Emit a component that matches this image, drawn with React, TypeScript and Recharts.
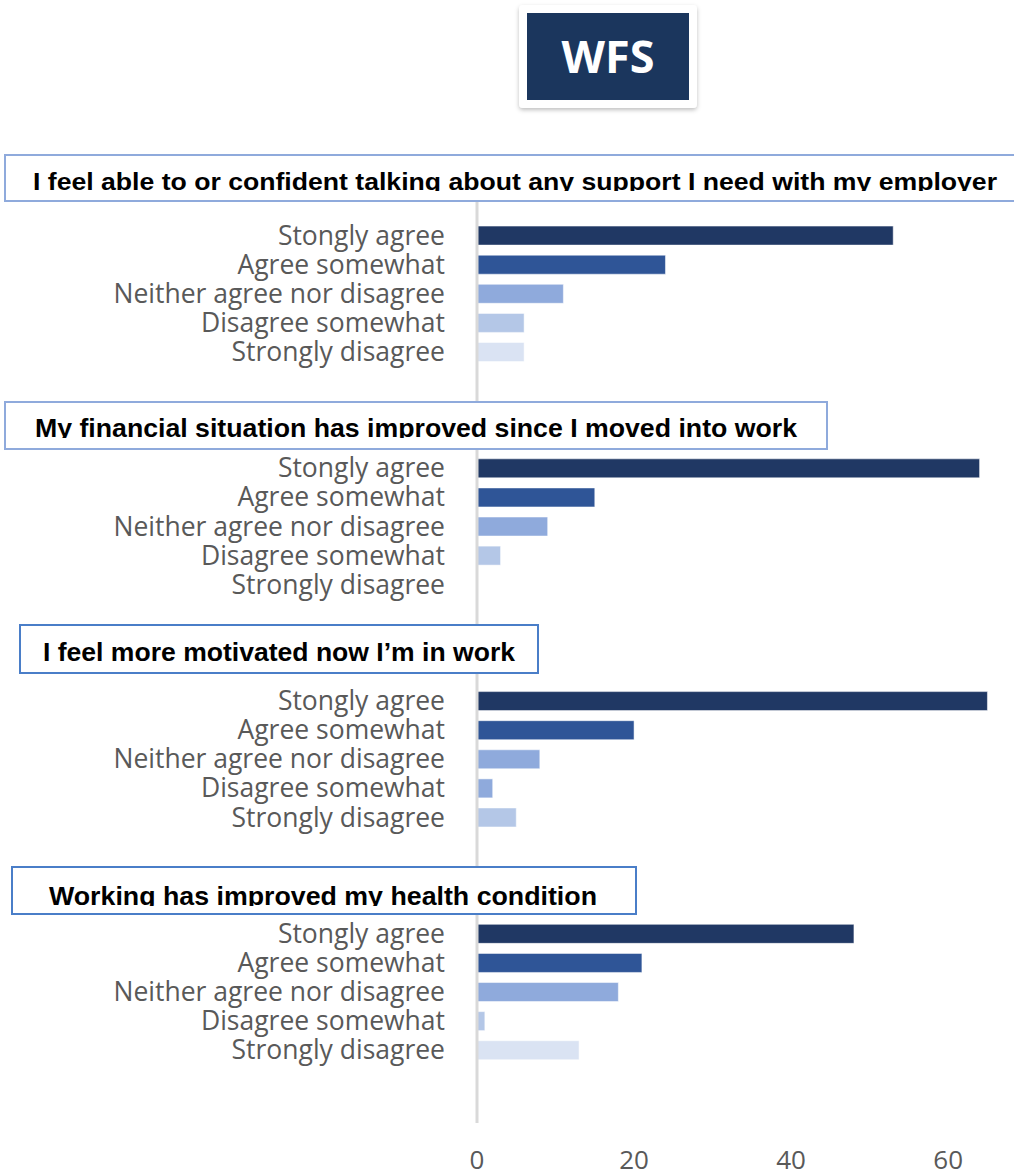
import React from 'react';
import { BarChart, Bar, XAxis, YAxis, Cell } from 'recharts';

// answer categories, same for every question
const categories = [
  'Stongly agree',
  'Agree somewhat',
  'Neither agree nor disagree',
  'Disagree somewhat',
  'Strongly disagree',
];

const questions = [
  'I feel able to or confident talking about any support I need with my employer',
  'My financial situation has improved since I moved into work',
  'I feel more motivated now I\u2019m in work',
  'Working has improved my health condition',
];

const supportValues = [53, 24, 11, 6, 6];
const financeValues = [64, 15, 9, 3, 0];
const motivationValues = [65, 20, 8, 2, 5];
const healthValues = [48, 21, 18, 1, 13];

const NAVY = '#203864';
const BLUE = '#2F5597';
const MID = '#8FAADC';
const LIGHT = '#B4C7E7';
const PALE = '#DAE3F3';

const supportColors = [NAVY, BLUE, MID, LIGHT, PALE];
const financeColors = [NAVY, BLUE, MID, LIGHT, PALE];
const motivationColors = [NAVY, BLUE, MID, MID, LIGHT];
const healthColors = [NAVY, BLUE, MID, LIGHT, PALE];

const xTicks = [0, 20, 40, 60];

// empty category rows before each block (last entry = after the last block)
const gapRows = [1, 3, 3, 3, 2];

const groups = [
  { values: supportValues, colors: supportColors },
  { values: financeValues, colors: financeColors },
  { values: motivationValues, colors: motivationColors },
  { values: healthValues, colors: healthColors },
];

type Row = { key: string; label: string; value: number | null; fill: string };
const rows: Row[] = [];
const pushBlank = (n: number) => {
  for (let i = 0; i < n; i++) {
    rows.push({ key: `gap${rows.length}`, label: '', value: null, fill: 'none' });
  }
};
groups.forEach((g, gi) => {
  pushBlank(gapRows[gi]);
  g.values.forEach((v, i) => {
    rows.push({ key: `g${gi}c${i}`, label: categories[i], value: v, fill: g.colors[i] });
  });
});
pushBlank(gapRows[groups.length]);

const LABEL_FONT = '"Open Sans", "Noto Sans", sans-serif';
const TITLE_FONT = '"Liberation Sans", Arial, sans-serif';

// title boxes drawn over the chart
const titleBoxes = [
  { x: 5, y: 155, w: 1020, h: 46, stroke: '#8FAADC', tx: 33, base: 190, len: 964, size: 23, clip: true },
  { x: 5, y: 402, w: 822, h: 47, stroke: '#8FAADC', tx: 35, base: 437, len: 762, size: 25, clip: true },
  { x: 20, y: 625, w: 518, h: 48, stroke: '#4A7EC8', tx: 43, base: 661, len: 472, size: 26, clip: false },
  { x: 12, y: 867, w: 624, h: 47, stroke: '#4A7EC8', tx: 49, base: 905, len: 548, size: 25, clip: true },
];

const CategoryTick = ({ x, y, index }: any) => {
  const row = rows[index];
  if (!row || !row.label) return null;
  return (
    <text x={x} y={y} dy={9} textAnchor="end" fill="#595959" fontSize={26.5} fontFamily={LABEL_FONT}>
      {row.label}
    </text>
  );
};

const ValueTick = ({ x, y, payload }: any) => (
  <text x={x} y={y} dy={46} textAnchor="middle" fill="#595959" fontSize={26} fontFamily={LABEL_FONT}>
    {payload.value}
  </text>
);

const Overlay = () => (
  <svg
    width={1014}
    height={1176}
    style={{ position: 'absolute', left: 0, top: 0, pointerEvents: 'none' }}
  >
    <defs>
      <filter id="shadow" x="-10%" y="-10%" width="120%" height="130%">
        <feDropShadow dx="0" dy="2" stdDeviation="2" floodColor="#000" floodOpacity="0.25" />
      </filter>
      {titleBoxes.map((b, i) => (
        <clipPath id={`clip${i}`} key={i}>
          <rect x={b.x} y={b.y} width={b.w} height={b.clip ? b.base + 1 - b.y : b.h} />
        </clipPath>
      ))}
    </defs>

    {/* WFS badge */}
    <rect x={519} y={5} width={178} height={103} rx={4} fill="#ffffff" filter="url(#shadow)" />
    <rect x={527} y={13} width={162} height={87} fill="#1B365D" />
    <text
      x={608}
      y={73}
      textAnchor="middle"
      fill="#ffffff"
      fontSize={44}
      fontWeight={700}
      fontFamily={LABEL_FONT}
      textLength={93}
      lengthAdjust="spacingAndGlyphs"
    >
      WFS
    </text>

    {titleBoxes.map((b, i) => (
      <g key={i}>
        <rect x={b.x} y={b.y} width={b.w} height={b.h} fill="#ffffff" stroke={b.stroke} strokeWidth={2} />
        <text
          x={b.tx}
          y={b.base}
          fill="#000000"
          fontSize={b.size}
          fontWeight={700}
          fontFamily={TITLE_FONT}
          textLength={b.len}
          lengthAdjust="spacingAndGlyphs"
          clipPath={`url(#clip${i})`}
        >
          {questions[i]}
        </text>
      </g>
    ))}
  </svg>
);

export default function App() {
  return (
    <div
      style={{
        position: 'absolute',
        left: 0,
        top: 0,
        width: 1014,
        height: 1176,
        overflow: 'hidden',
        background: '#ffffff',
      }}
    >
      <BarChart
        width={1014}
        height={1176}
        layout="vertical"
        data={rows}
        margin={{ top: 192, right: 3, left: 0, bottom: 0 }}
        barSize={19}
      >
        <XAxis
          type="number"
          domain={[0, 68]}
          ticks={xTicks}
          axisLine={false}
          tickLine={false}
          tickSize={0}
          tickMargin={0}
          height={53}
          tick={<ValueTick />}
        />
        <YAxis
          type="category"
          dataKey="key"
          width={477}
          interval={0}
          tickLine={false}
          tickSize={0}
          tickMargin={32}
          axisLine={{ stroke: '#D9D9D9', strokeWidth: 3 }}
          tick={<CategoryTick />}
        />
        <Bar dataKey="value" isAnimationActive={false} stroke="#ffffff" strokeOpacity={0.5} strokeWidth={1}>
          {rows.map((r) => (
            <Cell key={r.key} fill={r.fill} />
          ))}
        </Bar>
      </BarChart>
      <Overlay />
    </div>
  );
}
